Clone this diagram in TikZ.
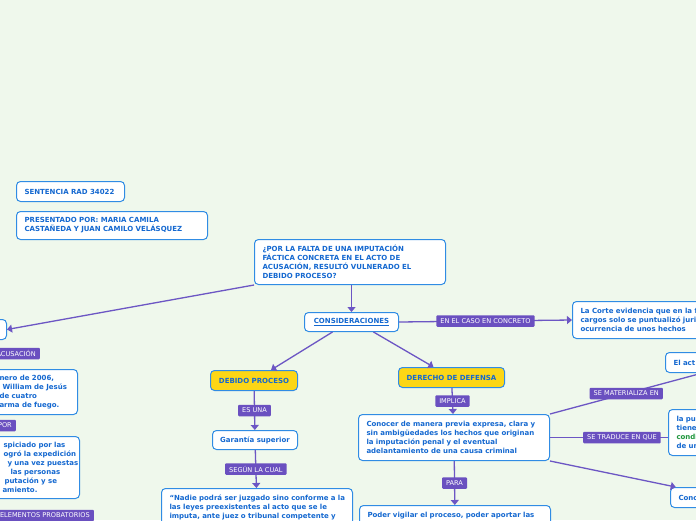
\documentclass[tikz,border=0pt]{standalone}
\usepackage{fontspec}
\usetikzlibrary{arrows.meta}
\newfontfamily\mapfont{DejaVu Sans}
\definecolor{bg}{RGB}{239,248,236}
\definecolor{nodeblue}{RGB}{48,140,228}
\definecolor{inkblue}{RGB}{20,104,208}
\definecolor{tagpurple}{RGB}{106,80,192}
\definecolor{linkpurple}{RGB}{108,86,196}
\definecolor{keyyellow}{RGB}{252,214,22}
\definecolor{condgreen}{RGB}{30,150,60}

\begin{document}
\begin{tikzpicture}[x=1pt,y=-1pt,
    idea/.style={draw=nodeblue, fill=white, line width=1pt, rounded corners=4pt, text=inkblue,
      font=\mapfont\bfseries\fontsize{7}{9}\selectfont, inner xsep=8pt, inner ysep=0pt,
      anchor=north west, align=left},
    keyidea/.style={idea, fill=keyyellow, align=center, inner xsep=0pt},
    linkword/.style={fill=tagpurple, text=white, rounded corners=1pt,
      font=\mapfont\fontsize{6.6}{8}\selectfont, inner xsep=4pt, inner ysep=0pt, minimum height=11.5pt},
    link/.style={draw=linkpurple, line width=1.3pt},
    arr/.style={link, -{Triangle[length=5pt,width=8pt]}}]
    \useasboundingbox (0,0) rectangle (696,520);
    \fill[bg] (0,0) rectangle (696,520);
    \clip (0,0) rectangle (696,520);

    \node[idea, text width=92pt, minimum height=20pt] (sent) at (16,181) {SENTENCIA RAD 34022};
    \node[idea, text width=175pt, minimum height=28pt] (pres) at (16,211)
      {PRESENTADO POR: MARIA CAMILA\\CASTAÑEDA Y JUAN CAMILO VELÁSQUEZ};
    \node[idea, text width=175pt, minimum height=45pt] (quest) at (254,239)
      {¿POR LA FALTA DE UNA IMPUTACIÓN\\FÁCTICA CONCRETA EN EL ACTO DE\\ACUSACIÓN, RESULTÓ VULNERADO EL\\DEBIDO PROCESO?};
    \node[idea, align=center, inner xsep=0pt, minimum width=94pt, minimum height=19pt] (cons) at (304,312)
      {\underline{CONSIDERACIONES}};

    \node[idea, anchor=north east, minimum width=60pt, minimum height=20pt] (lft) at (7,319) {};
    \node[linkword, anchor=east] (acus) at (40,353.5) {ACUSACIÓN};
    \node[idea, text width=70pt, minimum height=45pt] (hecho) at (-9,369)
      {\mbox{nero de 2006,}\\\mbox{\hspace*{3pt}William de Jesús}\\\mbox{de cuatro}\\\mbox{arma de fuego.}};
    \node[linkword, anchor=east] (por) at (16,425.5) {POR};
    \node[idea, text width=69pt, minimum height=62pt] (captura) at (-6,436)
      {\mbox{\hspace*{1pt}spiciado por las}\\\mbox{\hspace*{1pt}ogró la expedición}\\\mbox{\hspace*{5pt}y una vez puestas}\\\mbox{\hspace*{8pt}las personas}\\\mbox{\hspace*{2pt}putación y se}\\\mbox{amiento.}};
    \node[linkword, anchor=east] (elem) at (94,515.5) {ELEMENTOS PROBATORIOS};

    \node[idea, text width=200pt, minimum height=37pt] (corte) at (572,301)
      {La Corte evidencia que en la f\\cargos solo se puntualizó juri\\ocurrencia de unos hechos};
    \node[keyidea, minimum width=87pt, minimum height=20pt] (debido) at (210,370) {DEBIDO PROCESO};
    \node[keyidea, minimum width=106pt, minimum height=20pt] (derecho) at (398,367) {DERECHO DE DEFENSA};
    \node[idea, align=center, inner xsep=0pt, minimum width=85pt, minimum height=19pt] (garantia) at (212,430)
      {Garantía superior};
    \node[idea, text width=175pt, inner ysep=6.5pt] (nadie) at (161,488)
      {\mbox{“Nadie podrá ser juzgado sino conforme a la}\\\mbox{las leyes preexistentes al acto que se le}\\\mbox{imputa, ante juez o tribunal competente y}};
    \node[idea, text width=175pt, minimum height=46pt] (conocer) at (358,414)
      {\mbox{Conocer de manera previa expresa, clara y}\\\mbox{sin ambigüedades los hechos que originan}\\la imputación penal y el eventual\\adelantamiento de una causa criminal};
    \node[idea, text width=175pt, inner ysep=7pt] (vigilar) at (359,505)
      {\mbox{Poder vigilar el proceso, poder aportar las}\\\strut};
    \node[idea, text width=136pt, minimum height=20pt] (acto) at (665,352) {El act};
    \node[idea, text width=100pt, minimum height=46pt] (pu) at (668,409)
      {la pu\\tiene\\\textcolor{condgreen}{condi}\\de un};
    \node[idea, text width=96pt, minimum height=20pt] (conc) at (670,487) {Conc};

    \draw[arr] (quest.south west) -- (lft.east);
    \draw[arr] (cons.north |- quest.south) -- (cons.north);
    \draw[arr] (cons.east) -- node[linkword] {EN EL CASO EN CONCRETO} (corte.west);
    \draw[arr] ([xshift=-19pt]cons.south) -- ([xshift=17pt]debido.north);
    \draw[arr] ([xshift=22pt]cons.south) -- ([xshift=-18pt]derecho.north);
    \draw[arr] (debido) -- node[linkword] {ES UNA} (garantia);
    \draw[arr] (garantia) -- node[linkword] {SEGÚN LA CUAL} (nadie);
    \draw[arr] (derecho) -- node[linkword] {IMPLICA} (conocer);
    \draw[arr] (conocer) -- node[linkword] {PARA} (vigilar);
    \draw[link] (conocer.north east) -- node[linkword] {SE MATERIALIZA EN} (acto);
    \draw[link] (conocer.east) -- node[linkword, pos=0.61] {SE TRADUCE EN QUE} (conocer.east -| pu.west);
    \draw[arr] (conocer.south east) -- (conc);
\end{tikzpicture}
\end{document}
